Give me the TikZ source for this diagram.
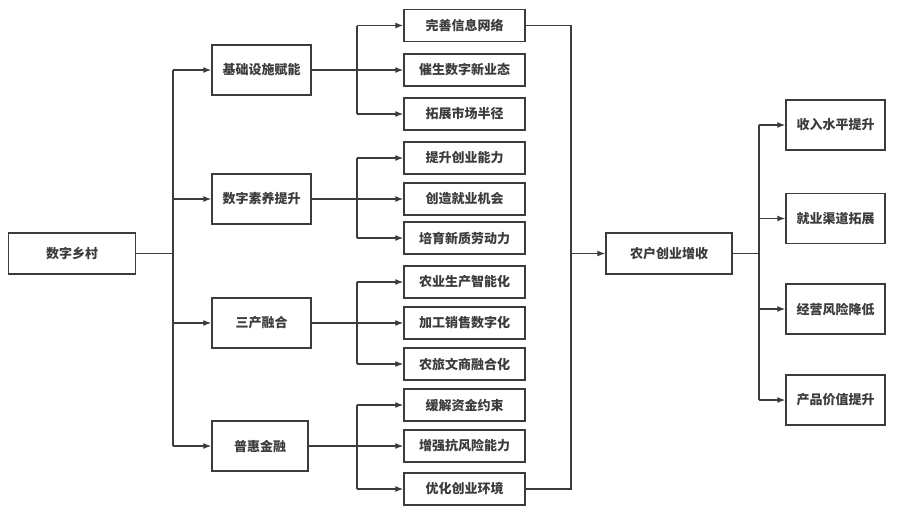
\documentclass[tikz,border=0pt]{standalone}
\usepackage{fontspec}
\newfontfamily\cjk{Noto Sans CJK SC}
\usetikzlibrary{arrows.meta}
\definecolor{ink}{HTML}{3C3C3C}
\begin{document}
\begin{tikzpicture}[x=1pt,y=-1pt,
  box/.style={draw=ink,line width=1.4pt,rectangle,inner sep=0pt,text=ink,
    font=\cjk\bfseries\fontsize{13}{15}\selectfont,anchor=center},
  wbox/.style={box,minimum width=99pt,minimum height=50pt},
  sbox/.style={box,minimum width=121pt,minimum height=32pt},
  lnk/.style={draw=ink,line width=1.2pt},
  arr/.style={lnk,-{Latex[length=8pt,width=6pt]}}]
\useasboundingbox (0,0) rectangle (901,507);
% root and centre
\node[box,minimum width=127pt,minimum height=41pt] (root) at (72,253.5) {数字乡村};
\node[box,minimum width=126pt,minimum height=41pt] (mid) at (669,253.5) {农户创业增收};
% level 2
\node[wbox] (a) at (261.5,70) {基础设施赋能};
\node[wbox] (b) at (261.5,199) {数字素养提升};
\node[wbox] (c) at (261.5,323) {三产融合};
\node[wbox,minimum width=96pt] (d) at (260,446) {普惠金融};
% level 3
\node[sbox] (a1) at (464.5,25.5) {完善信息网络};
\node[sbox] (a2) at (464.5,70) {催生数字新业态};
\node[sbox] (a3) at (464.5,114) {拓展市场半径};
\node[sbox] (b1) at (464.5,158) {提升创业能力};
\node[sbox] (b2) at (464.5,199) {创造就业机会};
\node[sbox] (b3) at (464.5,238) {培育新质劳动力};
\node[sbox] (c1) at (464.5,282) {农业生产智能化};
\node[sbox] (c2) at (464.5,323) {加工销售数字化};
\node[sbox] (c3) at (464.5,364) {农旅文商融合化};
\node[sbox] (d1) at (464.5,405) {缓解资金约束};
\node[sbox] (d2) at (464.5,446) {增强抗风险能力};
\node[sbox] (d3) at (464.5,489) {优化创业环境};
% right
\node[wbox] (r1) at (835.5,125) {收入水平提升};
\node[wbox] (r2) at (835.5,218.5) {就业渠道拓展};
\node[wbox] (r3) at (835.5,309) {经营风险降低};
\node[wbox] (r4) at (835.5,400) {产品价值提升};
% junction columns
\coordinate (t0) at (173,0);
\coordinate (tb) at (357,0);
\coordinate (tm) at (571,0);
\coordinate (tr) at (759,0);
% root trunk
\draw[lnk] (root.east) -- (root.east -| t0);
\draw[lnk] (t0 |- a.west) -- (t0 |- d.west);
\foreach \n in {a,b,c,d} \draw[arr] (t0 |- \n.west) -- (\n.west);
% branches
\foreach \p in {a,b,c,d}{
  \draw[lnk] (\p.east) -- (\p.east -| tb);
  \draw[lnk] (tb |- \p1.west) -- (tb |- \p3.west);
  \foreach \k in {1,2,3} \draw[arr] (tb |- \p\k.west) -- (\p\k.west);
}
% merge
\draw[lnk] (a1.east) -| (tm |- d3.east) -- (d3.east);
\draw[arr] (tm |- mid.west) -- (mid.west);
% right trunk
\draw[lnk] (mid.east) -- (mid.east -| tr);
\draw[lnk] (tr |- r1.west) -- (tr |- r4.west);
\foreach \n in {r1,r2,r3,r4} \draw[arr] (tr |- \n.west) -- (\n.west);
\end{tikzpicture}
\end{document}
